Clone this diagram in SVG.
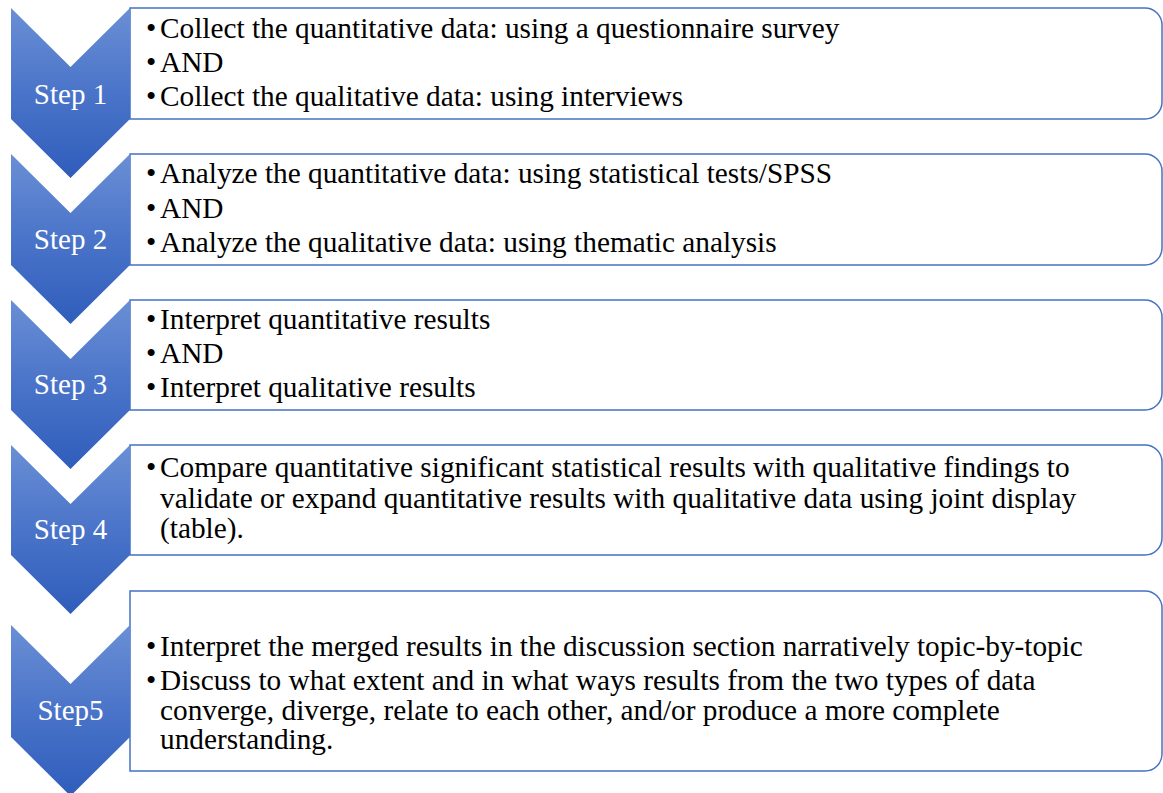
<svg xmlns="http://www.w3.org/2000/svg" width="1163" height="793" viewBox="0 0 1163 793">
<defs>
<linearGradient id="chev" x1="0" y1="0" x2="0" y2="1">
<stop offset="0" stop-color="#6a8fd5"/>
<stop offset="0.5" stop-color="#4a74c9"/>
<stop offset="1" stop-color="#2f5dbb"/>
</linearGradient>
</defs>
<style>
.box{fill:#ffffff;stroke:#4472c4;stroke-width:1.5}
.chev{fill:url(#chev)}
.lbl{font-family:"Liberation Serif","Times New Roman",serif;font-size:29px;fill:#ffffff;text-anchor:middle}
.t{font-family:"Liberation Serif","Times New Roman",serif;font-size:29.3px;fill:#000000}
</style>
<g id="node1">
<path class="box" d="M130 8 H1145 A17 17 0 0 1 1162 25 V102 A17 17 0 0 1 1145 119 H130 Z"/>
<path class="chev" d="M11 8 L70.5 67 L130 8 V119 L70.5 178 L11 119 Z"/>
<text class="lbl" x="70.5" y="104">Step 1</text>
<text class="t" x="146" y="38">•</text><text class="t" x="160" y="38">Collect the quantitative data: using a questionnaire survey</text>
<text class="t" x="146" y="72">•</text><text class="t" x="160" y="72">AND</text>
<text class="t" x="146" y="106">•</text><text class="t" x="160" y="106">Collect the qualitative data: using interviews</text>
</g>
<g id="node2">
<path class="box" d="M130 154 H1145 A17 17 0 0 1 1162 171 V248 A17 17 0 0 1 1145 265 H130 Z"/>
<path class="chev" d="M11 154 L70.5 213 L130 154 V265 L70.5 324 L11 265 Z"/>
<text class="lbl" x="70.5" y="249">Step 2</text>
<text class="t" x="146" y="183">•</text><text class="t" x="160" y="183">Analyze the quantitative data: using statistical tests/SPSS</text>
<text class="t" x="146" y="218">•</text><text class="t" x="160" y="218">AND</text>
<text class="t" x="146" y="252">•</text><text class="t" x="160" y="252">Analyze the qualitative data: using thematic analysis</text>
</g>
<g id="node3">
<path class="box" d="M130 300 H1145 A17 17 0 0 1 1162 317 V393 A17 17 0 0 1 1145 410 H130 Z"/>
<path class="chev" d="M11 300 L70.5 359 L130 300 V410 L70.5 469 L11 410 Z"/>
<text class="lbl" x="70.5" y="394">Step 3</text>
<text class="t" x="146" y="329">•</text><text class="t" x="160" y="329">Interpret quantitative results</text>
<text class="t" x="146" y="363">•</text><text class="t" x="160" y="363">AND</text>
<text class="t" x="146" y="397">•</text><text class="t" x="160" y="397">Interpret qualitative results</text>
</g>
<g id="node4">
<path class="box" d="M130 445 H1145 A17 17 0 0 1 1162 462 V538 A17 17 0 0 1 1145 555 H130 Z"/>
<path class="chev" d="M11 445 L70.5 504 L130 445 V555 L70.5 614 L11 555 Z"/>
<text class="lbl" x="70.5" y="539">Step 4</text>
<text class="t" x="146" y="477">•</text><text class="t" x="160" y="477">Compare quantitative significant statistical results with qualitative findings to</text>
<text class="t" x="160" y="508">validate or expand quantitative results with qualitative data using joint display</text>
<text class="t" x="160" y="538">(table).</text>
</g>
<g id="node5">
<path class="box" d="M130 591 H1145 A17 17 0 0 1 1162 608 V754 A17 17 0 0 1 1145 771 H130 Z"/>
<path class="chev" d="M11 625 L70.5 684 L130 625 V737 L70.5 796 L11 737 Z"/>
<text class="lbl" x="70.5" y="720">Step5</text>
<text class="t" x="146" y="656">•</text><text class="t" x="160" y="656">Interpret the merged results in the discussion section narratively topic-by-topic</text>
<text class="t" x="146" y="690">•</text><text class="t" x="160" y="690">Discuss to what extent and in what ways results from the two types of data</text>
<text class="t" x="160" y="720">converge, diverge, relate to each other, and/or produce a more complete</text>
<text class="t" x="160" y="749">understanding.</text>
</g>
<g id="connectors"/>
</svg>
